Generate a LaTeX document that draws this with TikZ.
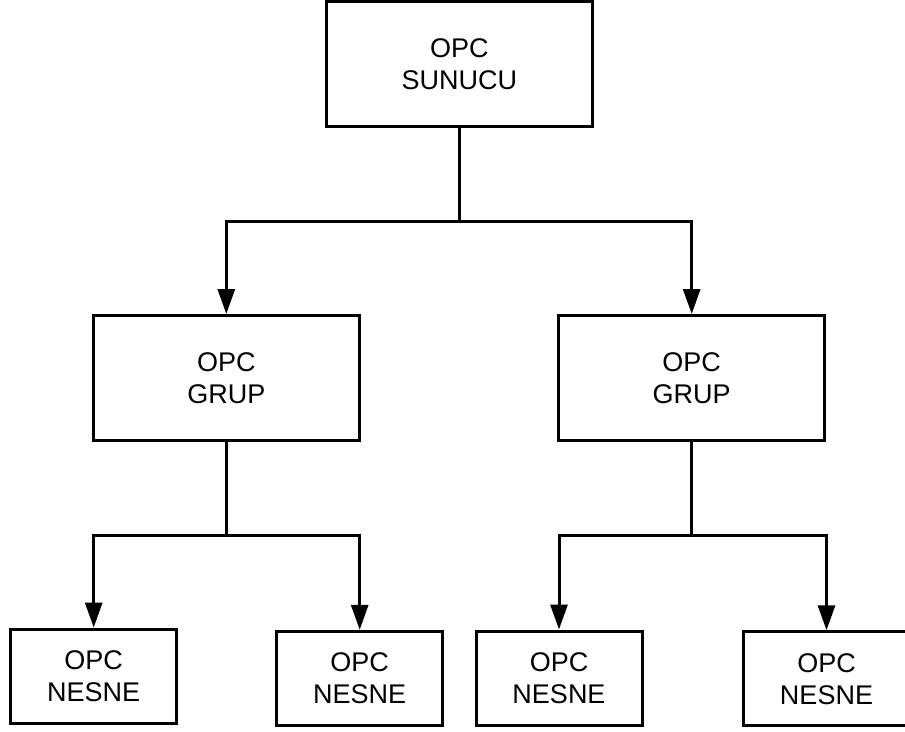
\documentclass[tikz,border=0pt]{standalone}
\usepackage{fontspec}
\setmainfont{Liberation Sans}
\usetikzlibrary{arrows.meta,calc}
\begin{document}
\begin{tikzpicture}[x=1pt,y=-1pt,
  box/.style={draw=black,line width=3pt,rectangle,align=center,inner sep=0pt,
    font=\fontsize{27}{32}\selectfont},
  big/.style={box,minimum width=266pt,minimum height=125pt},
  small/.style={box,minimum width=166pt,minimum height=94pt},
  link/.style={line width=3pt},
  arrow/.style={link,-{Triangle[length=25pt,width=17pt]}}]
  \useasboundingbox (0,0) rectangle (905,731);
  \clip (0,0) rectangle (905,731);

  % server, groups, objects
  \node[big] (srv) at (459.3,64.3) {OPC\\SUNUCU};
  \node[big] (gl) at (226.3,378) {OPC\\GRUP};
  \node[big] (gr) at (691.7,378) {OPC\\GRUP};
  \node[small] (o1) at (93.7,676) {OPC\\NESNE};
  \node[small] (o2) at (359.7,678.3) {OPC\\NESNE};
  \node[small] (o3) at (559,678) {OPC\\NESNE};
  \node[small] (o4) at (826.5,678.8) {OPC\\NESNE};

  % branch points
  \coordinate (b0) at (srv.south |- 0,221);
  \coordinate (b1) at (gl.south |- 0,535);
  \coordinate (b2) at (gr.south |- 0,535);

  \draw[link] (srv.south) -- (b0);
  \draw[arrow] (b0) -| (gl.north);
  \draw[arrow] (b0) -| (gr.north);

  \draw[link] (gl.south) -- (b1);
  \draw[arrow] (b1) -| (o1.north);
  \draw[arrow] (b1) -| (o2.north);

  \draw[link] (gr.south) -- (b2);
  \draw[arrow] (b2) -| (o3.north);
  \draw[arrow] (b2) -| (o4.north);
\end{tikzpicture}
\end{document}
